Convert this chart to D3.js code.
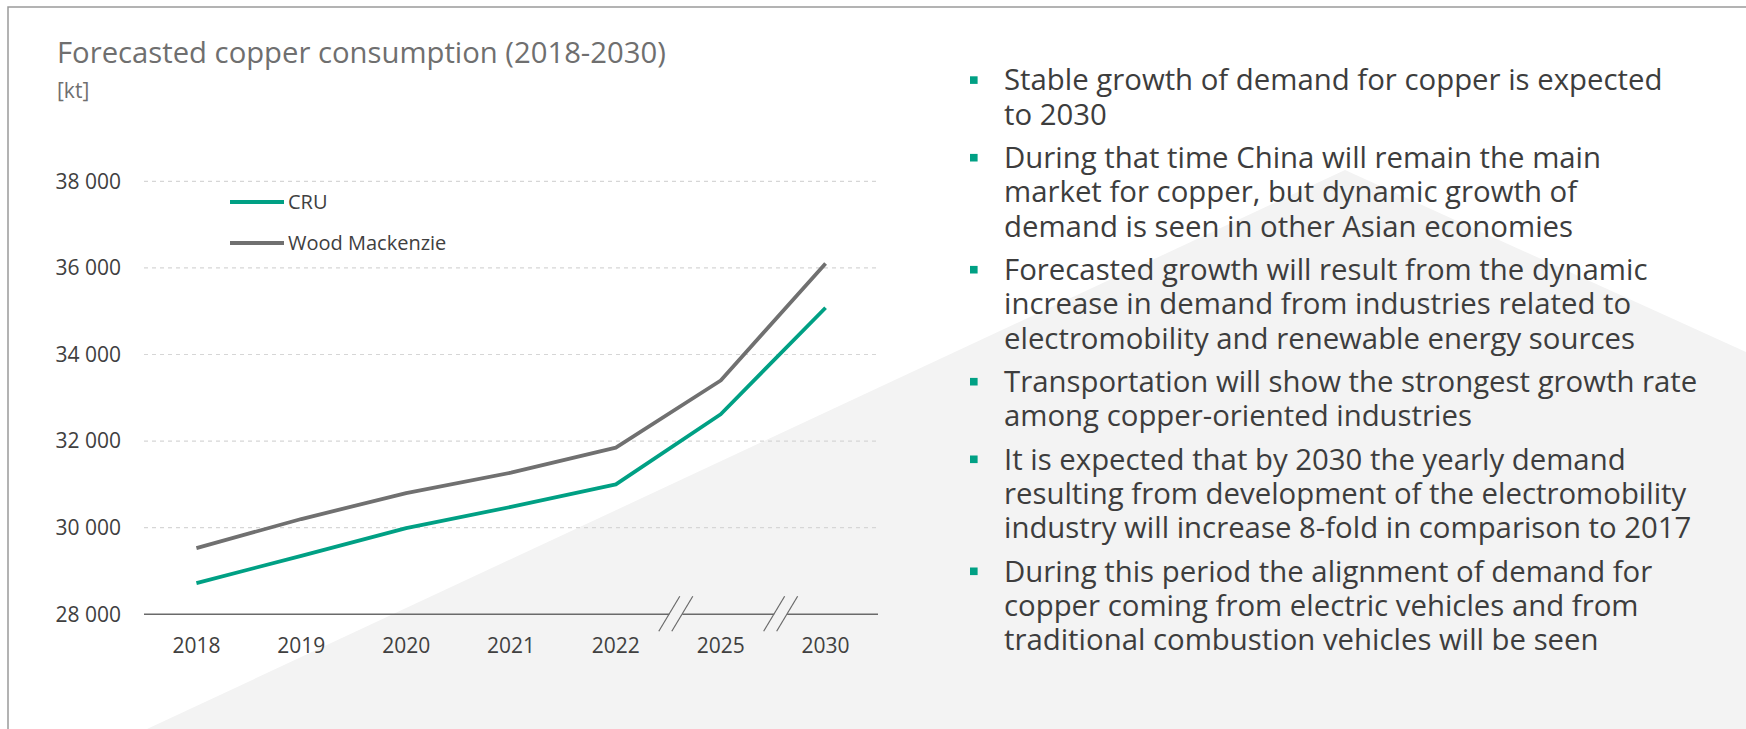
<!DOCTYPE html>
<html>
<head>
<meta charset="utf-8">
<style>
  html, body { margin: 0; padding: 0; background: #fff; }
  svg { display: block; font-family: "Open Sans", sans-serif; }
  .grid line { stroke: #d6d6d6; stroke-width: 1.2px; stroke-dasharray: 4 4; }
  .ytick { fill: #404040; font-size: 21px; text-anchor: end; }
  .xtick { fill: #404040; font-size: 21px; text-anchor: middle; }
  .title { fill: #6f6f6f; font-size: 29.25px; }
  .unit { fill: #6f6f6f; font-size: 21px; }
  .legend text { fill: #404040; font-size: 20px; }
  .bullets text { fill: #3d3d3d; font-size: 29.35px; }
</style>
</head>
<body>
<div id="chart"></div>
<script src="https://cdn.jsdelivr.net/npm/d3@7/dist/d3.min.js"></script>
<script>
  // data
  var years = ["2018", "2019", "2020", "2021", "2022", "2025", "2030"];
  var cru = [28720, 29350, 29990, 30480, 31000, 32620, 35080];
  var woodMackenzie = [29530, 30200, 30800, 31270, 31850, 33400, 36100];
  var yTicks = [28000, 30000, 32000, 34000, 36000, 38000];
  var breaksAfter = ["2022", "2025"];

  var seriesNames = ["CRU", "Wood Mackenzie"];
  var seriesColors = ["#00a084", "#707070"];

  var bullets = [
    ["Stable growth of demand for copper is expected", "to 2030"],
    ["During that time China will remain the main", "market for copper, but dynamic growth of", "demand is seen in other Asian economies"],
    ["Forecasted growth will result from the dynamic", "increase in demand from industries related to", "electromobility and renewable energy sources"],
    ["Transportation will show the strongest growth rate", "among copper-oriented industries"],
    ["It is expected that by 2030 the yearly demand", "resulting from development of the electromobility", "industry will increase 8-fold in comparison to 2017"],
    ["During this period the alignment of demand for", "copper coming from electric vehicles and from", "traditional combustion vehicles will be seen"]
  ];

  var W = 1746, H = 729;
  var bg = "#f3f3f3";

  var svg = d3.select("#chart").append("svg")
    .attr("width", W)
    .attr("height", H);

  // decorative background shape
  svg.append("path")
    .attr("d", "M147,729 L1345,170 L1746,352 L1746,729 Z")
    .attr("fill", bg);

  // frame
  svg.append("path")
    .attr("d", "M8,729 L8,7 L1746,7")
    .attr("fill", "none")
    .attr("stroke", "#9a9a9a")
    .attr("stroke-width", 1.5);

  svg.append("text").attr("class", "title")
    .attr("x", 57).attr("y", 63)
    .text("Forecasted copper consumption (2018-2030)");
  svg.append("text").attr("class", "unit")
    .attr("x", 57).attr("y", 98)
    .text("[kt]");

  ////////// chart //////////
  var x = d3.scaleBand()
    .domain(years)
    .range([144, 878]);

  var y = d3.scaleLinear()
    .domain([28000, 38000])
    .range([614.3, 181.3]);

  var fmt = d3.formatLocale({ decimal: ",", thousands: " ", grouping: [3], currency: ["", ""] }).format(",d");

  var grid = svg.append("g").attr("class", "grid");
  grid.selectAll("line")
    .data(yTicks.filter(function (d) { return d > 28000; }))
    .enter().append("line")
    .attr("x1", x.range()[0])
    .attr("x2", x.range()[1])
    .attr("y1", function (d) { return y(d); })
    .attr("y2", function (d) { return y(d); });

  svg.append("g").selectAll("text")
    .data(yTicks)
    .enter().append("text")
    .attr("class", "ytick")
    .attr("x", 121)
    .attr("y", function (d) { return y(d); })
    .attr("dy", "0.35em")
    .text(function (d) { return fmt(d); });

  // x axis line, split at the breaks
  var breakX = breaksAfter.map(function (c) {
    return x(c) + x.bandwidth() + 7.5;
  });
  var gapHalf = 6.5;
  var segs = [];
  var start = x.range()[0];
  breakX.forEach(function (b) {
    segs.push([start, b - gapHalf]);
    start = b + gapHalf;
  });
  segs.push([start, x.range()[1]]);

  var axis = svg.append("g").attr("class", "x-axis");
  axis.selectAll("line.seg")
    .data(segs)
    .enter().append("line")
    .attr("class", "seg")
    .attr("x1", function (d) { return d[0]; })
    .attr("x2", function (d) { return d[1]; })
    .attr("y1", y(28000))
    .attr("y2", y(28000))
    .attr("stroke", "#6a6a6a")
    .attr("stroke-width", 1.5);

  breakX.forEach(function (b) {
    [-gapHalf, gapHalf].forEach(function (off) {
      axis.append("line")
        .attr("x1", b + off - 10.5).attr("y1", y(28000) + 17)
        .attr("x2", b + off + 10.5).attr("y2", y(28000) - 18)
        .attr("stroke", "#6a6a6a")
        .attr("stroke-width", 1.2);
    });
  });

  axis.selectAll("text")
    .data(years)
    .enter().append("text")
    .attr("class", "xtick")
    .attr("x", function (d) { return x(d) + x.bandwidth() / 2; })
    .attr("y", y(28000) + 38.7)
    .text(function (d) { return d; });

  // lines
  var line = d3.line()
    .x(function (d, i) { return x(years[i]) + x.bandwidth() / 2; })
    .y(function (d) { return y(d); });

  [woodMackenzie, cru].forEach(function (s, k) {
    svg.append("path")
      .attr("d", line(s))
      .attr("fill", "none")
      .attr("stroke", k === 0 ? seriesColors[1] : seriesColors[0])
      .attr("stroke-width", 3.8)
      .attr("stroke-linejoin", "round");
  });

  // legend
  var legend = svg.append("g").attr("class", "legend");
  seriesNames.forEach(function (name, i) {
    var ly = 202 + i * 41;
    legend.append("line")
      .attr("x1", 230).attr("x2", 284)
      .attr("y1", ly).attr("y2", ly)
      .attr("stroke", seriesColors[i])
      .attr("stroke-width", 4);
    legend.append("text")
      .attr("x", 288).attr("y", ly + 7)
      .text(name);
  });

  ////////// bullet list //////////
  var lh = 34.4, gap = 8.8;
  var by = 90.3;
  var list = svg.append("g").attr("class", "bullets");
  bullets.forEach(function (b) {
    list.append("rect")
      .attr("x", 970).attr("y", by - 14)
      .attr("width", 7.6).attr("height", 7.6)
      .attr("fill", seriesColors[0]);
    b.forEach(function (t, j) {
      list.append("text")
        .attr("x", 1004).attr("y", by + j * lh)
        .text(t);
    });
    by += b.length * lh + gap;
  });
</script>
</body>
</html>
